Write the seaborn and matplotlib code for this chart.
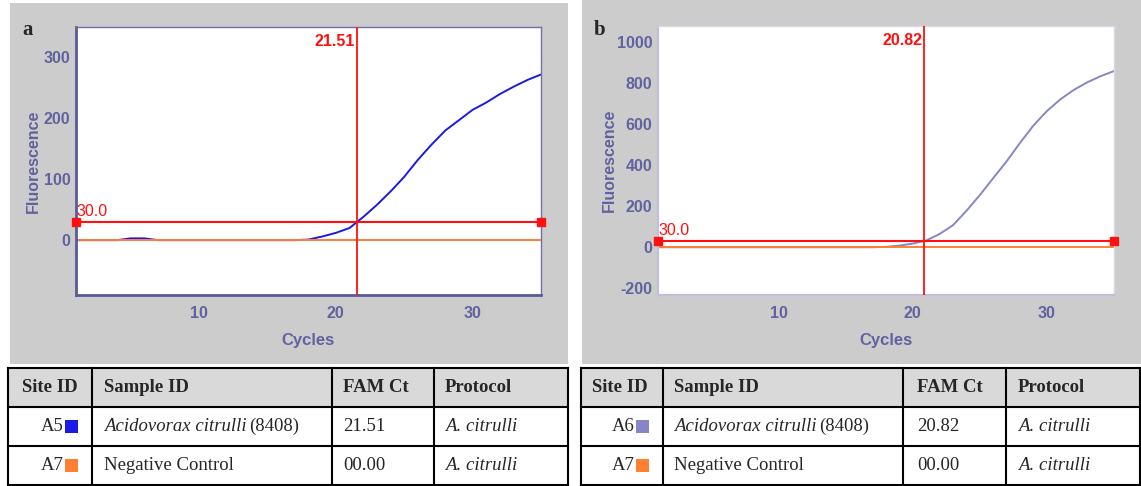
import matplotlib
matplotlib.use("Agg")
import numpy as np
import pandas as pd
import matplotlib.pyplot as plt
import seaborn as sns
from matplotlib.patches import Rectangle

# ---- data ----
cycles = list(range(1, 36))
fluor_a5 = [0, 0, 0, 0, 3, 3, 0, 0, 0, 0, 0, 0, 0, 0, 0, 0, 0, 1, 6, 12,
            20, 38, 58, 80, 104, 132, 157, 180, 197, 214, 226, 240, 252, 263, 272]
fluor_a6 = [0, 0, 0, 0, 0, 0, 0, 0, 0, 0, 0, 0, 0, 0, 0, 0, 0, 2, 8, 18,
            33, 65, 108, 178, 255, 338, 420, 510, 595, 665, 722, 768, 805, 835, 860]
fluor_neg = [0, 0, 0, 0, 0, 0, 0, 0, 0, 0, 0, 0, 0, 0, 0, 0, 0, 0, 0, 0,
             0, 0, 0, 0, 0, 0, 0, 0, 0, 0, 0, 0, 0, 0, 0]
ct_a5 = 21.51
ct_a6 = 20.82
threshold = 30.0

header = ["Site ID", "Sample ID", "FAM Ct", "Protocol"]
sites_a = ["A5", "A7"]
sites_b = ["A6", "A7"]
sample_italic = ["Acidovorax citrulli", "Negative Control"]
sample_suffix = ["(8408)", ""]
famct_a = ["21.51", "00.00"]
famct_b = ["20.82", "00.00"]
protocols = ["A. citrulli", "A. citrulli"]

c_a5 = "#1a1ae6"
c_a6 = "#8686c6"
c_neg = "#ff8033"
c_red = "#ff1010"
c_axis = "#5a5a9a"
c_lbl = "#62629f"

sns.set_style("white")
plt.rcParams["font.family"] = ["Liberation Sans", "DejaVu Sans"]
plt.rcParams["axes.unicode_minus"] = False

W, H = 1141, 486
fig = plt.figure(figsize=(W / 100, H / 100), dpi=100)
fig.patch.set_facecolor("white")

bg = fig.add_axes([0, 0, 1, 1])
bg.set_xlim(0, W)
bg.set_ylim(H, 0)
bg.axis("off")
bg.set_zorder(0)

bg.add_patch(Rectangle((10, 3), 558, 361, color="#cccccc", lw=0))
bg.add_patch(Rectangle((582, 0), 559, 364, color="#cccccc", lw=0))


def px_axes(l, t, r, b):
    ax = fig.add_axes([l / W, 1 - b / H, (r - l) / W, (b - t) / H])
    ax.set_zorder(2)
    return ax


def draw_panel(ax, sample, values, color, ct, ylim, yticks, yminor, dark, lab_x):
    df = pd.DataFrame({
        "Cycles": cycles * 2,
        "Fluorescence": values + fluor_neg,
        "sample": [sample] * len(cycles) + ["neg"] * len(cycles),
    })
    sns.lineplot(data=df, x="Cycles", y="Fluorescence", hue="sample",
                 palette={sample: color, "neg": c_neg}, legend=False,
                 lw=1.4, ax=ax)
    ax.set_facecolor("white")
    ax.set_xlim(1, 35)
    ax.set_ylim(*ylim)
    # threshold & Ct lines
    ax.plot([1, 35], [threshold, threshold], color=c_red, lw=1.5,
            marker="s", ms=6, clip_on=False, zorder=5)
    ax.axvline(ct, color=c_red, lw=1.3, zorder=5)
    ax.annotate(f"{threshold:.1f}", (1, threshold), xytext=(0, 2),
                textcoords="offset points", color=c_red, fontsize=11.5,
                ha="left", va="bottom")
    ax.annotate(f"{ct:.2f}", (ct, ylim[1]), xytext=(-1, -5),
                textcoords="offset points", color=c_red, fontsize=11.5,
                fontweight="bold", ha="right", va="top")
    ax.set_xticks([10, 20, 30])
    ax.set_xticks([15, 25, 35], minor=True)
    ax.set_yticks(yticks)
    ax.set_yticks(yminor, minor=True)
    ax.tick_params(which="both", direction="inout", color=c_axis, width=1.3)
    ax.tick_params(which="major", length=6, labelsize=11.5, labelcolor=c_lbl)
    ax.tick_params(which="minor", length=5)
    ax.tick_params(axis="y", pad=1)
    ax.tick_params(axis="x", pad=5)
    for lab in ax.get_xticklabels() + ax.get_yticklabels():
        lab.set_fontweight("bold")
    if dark:
        for s in ["left", "bottom"]:
            ax.spines[s].set_color(c_axis)
            ax.spines[s].set_linewidth(2)
        for s in ["top", "right"]:
            ax.spines[s].set_color("#7070aa")
            ax.spines[s].set_linewidth(1)
    else:
        for s in ["left", "bottom"]:
            ax.spines[s].set_color("#c0c0dc")
            ax.spines[s].set_linewidth(1.6)
        for s in ["top", "right"]:
            ax.spines[s].set_color("#d8d8ea")
            ax.spines[s].set_linewidth(1)
    ax.set_xlabel("Cycles", fontsize=12, fontweight="bold", color=c_lbl)
    ax.set_ylabel("Fluorescence", fontsize=11.5, fontweight="bold", color=c_lbl)
    ax.xaxis.set_label_coords(0.5, -0.14)
    ax.yaxis.label.set_va("center")
    ax.yaxis.set_label_coords(lab_x, 0.5)


ax_a = px_axes(76, 27, 541, 295)
draw_panel(ax_a, "A5", fluor_a5, c_a5, ct_a5, (-90, 350), [0, 100, 200, 300],
           [50, 150, 250, 350], True, -0.092)
ax_b = px_axes(658, 26, 1114, 295)
draw_panel(ax_b, "A6", fluor_a6, c_a6, ct_a6, (-233, 1080),
           [-200, 0, 200, 400, 600, 800, 1000],
           [-100, 100, 300, 500, 700, 900], False, -0.107)

bg.text(28, 30, "a", fontsize=15, fontweight="bold", family="Liberation Serif",
        ha="center", va="center")
bg.text(600, 30, "b", fontsize=15, fontweight="bold", family="Liberation Serif",
        ha="center", va="center")

# ---- tables ----
renderer = fig.canvas.get_renderer()
y_edges = [368, 407, 446, 485]


def draw_table(x_edges, text_x, sq_x, sites, colors, famct):
    serif = "Liberation Serif"
    fs = 13.5
    bg.add_patch(Rectangle((x_edges[0], y_edges[0]), x_edges[-1] - x_edges[0],
                           y_edges[1] - y_edges[0], color="#d9d9d9", lw=0))
    for x in x_edges:
        bg.plot([x, x], [y_edges[0], y_edges[-1]], color="black", lw=1.5,
                solid_capstyle="projecting")
    for y in y_edges:
        bg.plot([x_edges[0], x_edges[-1]], [y, y], color="black", lw=1.5,
                solid_capstyle="projecting")
    yc = [(y_edges[i] + y_edges[i + 1]) / 2 for i in range(3)]
    for tx, h in zip(text_x, header):
        bg.text(tx, yc[0], h, fontsize=fs, fontweight="bold", family=serif,
                va="center", ha="left")
    for i in range(2):
        y = yc[i + 1]
        bg.text(sq_x - 1, y, sites[i], fontsize=fs, family=serif,
                va="center", ha="right")
        bg.add_patch(Rectangle((sq_x, y - 6.5), 13, 13, color=colors[i], lw=0))
        t = bg.text(text_x[1], y, sample_italic[i], fontsize=fs,
                    style="italic" if sample_suffix[i] else "normal",
                    family=serif, va="center", ha="left")
        if sample_suffix[i]:
            bb = t.get_window_extent(renderer)
            bg.text(bb.x1 + 2, y, sample_suffix[i], fontsize=fs, family=serif,
                    va="center", ha="left")
        bg.text(text_x[2], y, famct[i], fontsize=fs, family=serif,
                va="center", ha="left")
        bg.text(text_x[3], y, protocols[i], fontsize=fs, style="italic",
                family=serif, va="center", ha="left")


draw_table([8, 92, 332, 434, 568], [22, 104, 343, 445], 65,
           sites_a, [c_a5, c_neg], famct_a)
draw_table([581, 663, 903, 1006, 1140], [592, 674, 917, 1018], 636,
           sites_b, [c_a6, c_neg], famct_b)

fig.savefig("out.png", dpi=100)
